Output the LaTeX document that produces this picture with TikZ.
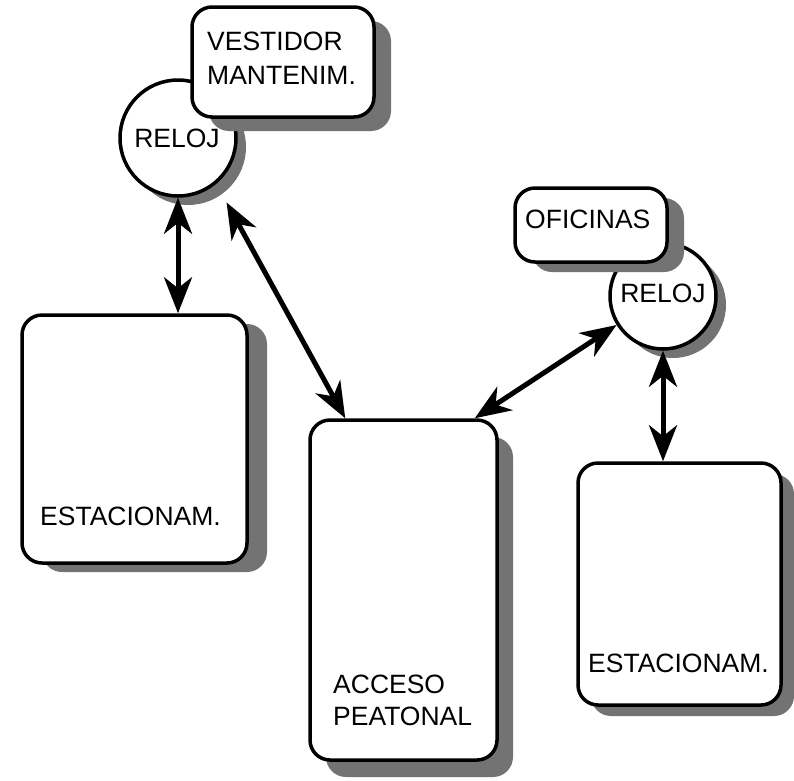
\documentclass[tikz,border=0pt]{standalone}
\usepackage{fontspec}
\setmainfont{Liberation Sans}
\usetikzlibrary{arrows.meta,shadows,calc}
\begin{document}
\begin{tikzpicture}[x=1pt,y=-1pt,
  every node/.style={font=\fontsize{26.5}{32}\selectfont},
  shd/.style 2 args={drop shadow={shadow xshift=#1,shadow yshift=#2,fill=black!55,opacity=1}},
  box/.style={draw, line width=3.5pt, rounded corners=20pt, fill=white, inner sep=0pt},
  clock/.style={draw, circle, line width=3.5pt, fill=white, inner sep=0pt},
  lbl/.style={inner sep=0pt, anchor=base west},
  clbl/.style={inner sep=0pt, anchor=base},
  link/.style={line width=5pt, {Stealth[length=36pt,width=28pt,inset=11pt]}-{Stealth[length=36pt,width=28pt,inset=11pt]}}
]
\useasboundingbox (0,0) rectangle (794,780);

% clocks
\node[clock, shd={10pt}{-9pt}, minimum size=116pt] (c1) at (178,138) {};
\node[clock, shd={10pt}{-9pt}, minimum size=106pt] (c2) at (663,296) {};

% boxes
\node[box, shd={17pt}{-14pt}, minimum width=182pt, minimum height=110pt] (vbox) at (283,62) {};
\node[box, shd={17pt}{-10pt}, minimum width=152pt, minimum height=74pt] (obox) at (591,225) {};
\node[box, shd={20pt}{-9pt}, minimum width=225pt, minimum height=248pt] (lbox) at (134.5,439) {};
\node[box, shd={16pt}{-17pt}, minimum width=187pt, minimum height=340pt] (abox) at (403.5,590) {};
\node[box, shd={13pt}{-11pt}, minimum width=203pt, minimum height=242pt] (rbox) at (679.5,584) {};

% labels
\node[lbl] (t1) at (207,50) {VESTIDOR};
\node[lbl] (t2) at (207,84) {MANTENIM.};
\node[clbl] (t3) at (177,147) {RELOJ};
\node[lbl] (t4) at (40,525) {ESTACIONAM.};
\node[lbl] (t5) at (333,693) {ACCESO};
\node[lbl] (t6) at (333,725) {PEATONAL};
\node[lbl] (t7) at (525,228) {OFICINAS};
\node[clbl] (t8) at (663,302) {RELOJ};
\node[lbl] (t9) at (588,672) {ESTACIONAM.};

% connectors
\draw[link] (c1.south) -- (c1.south |- lbox.north);
\draw[link] ($(c1.center)!1.35!(c1.-53)$) -- ($(abox.north west)+(37,0)$);
\draw[link] (c2.212) -- ($(abox.north east)+(-24,0)$);
\draw[link] (c2.south) -- (c2.south |- rbox.north);
\end{tikzpicture}
\end{document}
